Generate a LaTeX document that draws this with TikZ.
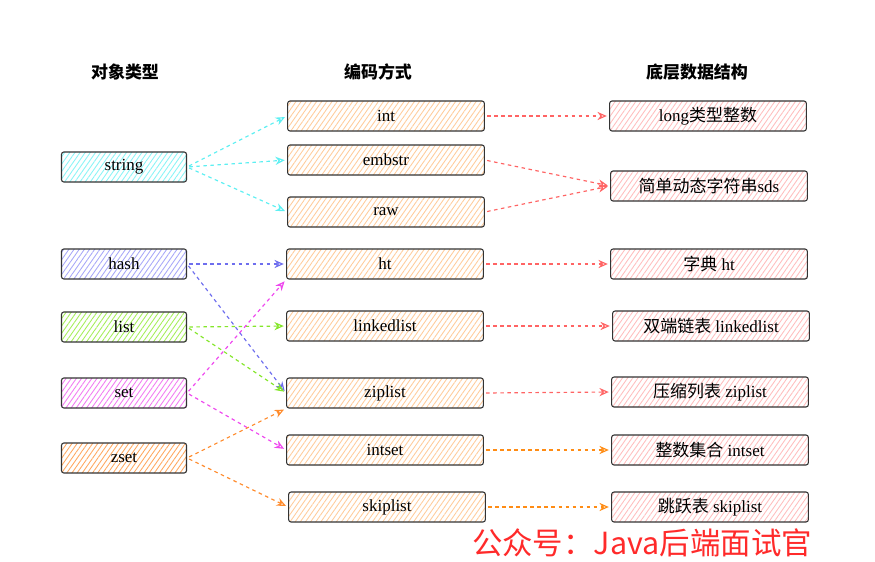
\documentclass[tikz,border=0pt]{standalone}
\usepackage{fontspec}
\setmainfont{Liberation Serif}
\newfontfamily\cjk{Noto Sans CJK SC}
\usetikzlibrary{patterns.meta,arrows.meta}
\definecolor{cstring}{HTML}{8AF4F6}
\definecolor{chash}{HTML}{A8A8F8}
\definecolor{clist}{HTML}{A6EE5A}
\definecolor{cset}{HTML}{F27CF2}
\definecolor{czset}{HTML}{FFA860}
\definecolor{cenc}{HTML}{FFCC9C}
\definecolor{cdata}{HTML}{FFBEBE}
\definecolor{astring}{HTML}{5EEFF2}
\definecolor{ahash}{HTML}{6E6EEE}
\definecolor{alist}{HTML}{84E62A}
\definecolor{aset}{HTML}{EE48EE}
\definecolor{azset}{HTML}{FF8C2E}
\definecolor{cred}{HTML}{FF6464}
\definecolor{corange}{HTML}{FF8C14}
\definecolor{cmark}{HTML}{FF2A2A}
\tikzset{
  box/.style={draw=black!80, line width=0.9pt, rounded corners=2pt,
    minimum height=0.9cm, inner sep=0pt, font=\fontsize{14.5}{17}\selectfont},
  hatch/.style={pattern={Lines[angle=55,distance=3.6pt,line width=0.75pt]}, pattern color=#1},
  objbox/.style={box, minimum width=3.75cm},
  encbox/.style={box, minimum width=5.9cm, hatch=cenc},
  databox/.style={box, minimum width=5.9cm, hatch=cdata},
  link/.style={dashed, line width=1pt, -{Stealth[open,length=8pt,width=7pt]}, shorten <=2pt, shorten >=2pt},
  head/.style={font=\cjk\bfseries\fontsize{14.5}{17}\selectfont}
}
\begin{document}
\begin{tikzpicture}[x=0.03cm,y=-0.03cm]
\useasboundingbox (0,0) rectangle (875,561);
\node[head] (h1) at (125,72) {对象类型};
\node[head] (h2) at (378,72) {编码方式};
\node[head] (h3) at (697,72) {底层数据结构};
\node[objbox, hatch=cstring] (string) at (124,167) {string};
\node[objbox, hatch=chash] (hash) at (124,264) {hash};
\node[objbox, hatch=clist] (list) at (124,327) {list};
\node[objbox, hatch=cset] (set) at (124,393) {set};
\node[objbox, hatch=czset] (zset) at (124,458) {zset};
\node[encbox] (int) at (386,116) {int};
\node[encbox] (embstr) at (386,160) {embstr};
\node[encbox] (raw) at (386,212) {raw};
\node[encbox] (ht) at (385,264) {ht};
\node[encbox] (linkedlist) at (385,326) {linkedlist};
\node[encbox] (ziplist) at (385,393) {ziplist};
\node[encbox] (intset) at (385,450) {intset};
\node[encbox] (skiplist) at (387,507) {skiplist};
\node[databox] (long) at (708,116) {long{\cjk 类型整数}};
\node[databox] (sds) at (709,186) {{\cjk 简单动态字符串}sds};
\node[databox] (dict) at (709,264) {{\cjk 字典} ht};
\node[databox] (dlist) at (711,326) {{\cjk 双端链表} linkedlist};
\node[databox] (zlist) at (710,392) {{\cjk 压缩列表} ziplist};
\node[databox] (iset) at (710,450) {{\cjk 整数集合} intset};
\node[databox] (slist) at (710,507) {{\cjk 跳跃表} skiplist};
\draw[link, astring] (string.east) -- (int.west);
\draw[link, astring] (string.east) -- (embstr.west);
\draw[link, astring] (string.east) -- (raw.west);
\draw[link, ahash] (hash.east) -- (ht.west);
\draw[link, ahash] (hash.east) -- (ziplist.west);
\draw[link, alist] (list.east) -- (linkedlist.west);
\draw[link, alist] (list.east) -- (ziplist.west);
\draw[link, aset] (set.east) -- (ht.south west);
\draw[link, aset] (set.east) -- (intset.west);
\draw[link, azset] (zset.east) -- (ziplist.south west);
\draw[link, azset] (zset.east) -- (skiplist.west);
\draw[link, cred] (int.east) -- (long.west);
\draw[link, cred] (embstr.east) -- (sds.west);
\draw[link, cred] (raw.east) -- (sds.west);
\draw[link, cred] (ht.east) -- (dict.west);
\draw[link, cred] (linkedlist.east) -- (dlist.west);
\draw[link, cred] (ziplist.east) -- (zlist.west);
\draw[link, corange] (intset.east) -- (iset.west);
\draw[link, corange] (skiplist.east) -- (slist.west);
\node[font=\cjk\fontsize{26}{30}\selectfont, text=cmark] (mark) at (642,543) {公众号：Java后端面试官};
\end{tikzpicture}
\end{document}
